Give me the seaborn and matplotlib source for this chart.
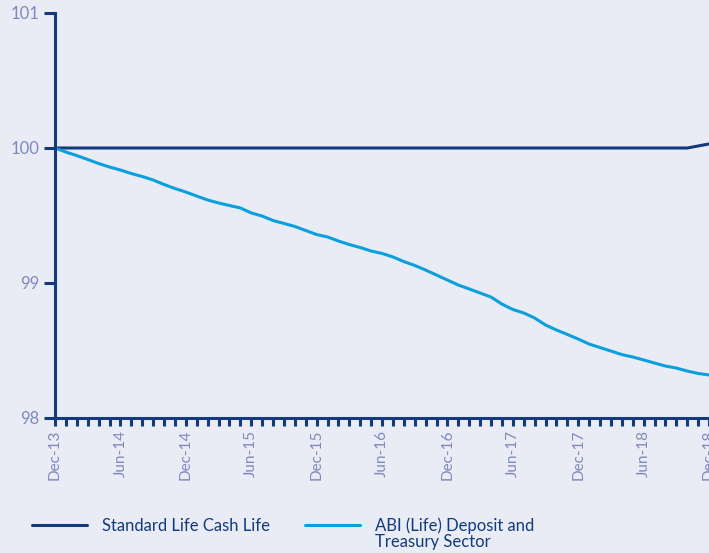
import matplotlib
matplotlib.use("Agg")
import matplotlib.pyplot as plt
import seaborn as sns
import pandas as pd
import numpy as np

# ---- data ----
months = ["Dec-13", "Jan-14", "Feb-14", "Mar-14", "Apr-14", "May-14", "Jun-14", "Jul-14", "Aug-14", "Sep-14", "Oct-14", "Nov-14",
          "Dec-14", "Jan-15", "Feb-15", "Mar-15", "Apr-15", "May-15", "Jun-15", "Jul-15", "Aug-15", "Sep-15", "Oct-15", "Nov-15",
          "Dec-15", "Jan-16", "Feb-16", "Mar-16", "Apr-16", "May-16", "Jun-16", "Jul-16", "Aug-16", "Sep-16", "Oct-16", "Nov-16",
          "Dec-16", "Jan-17", "Feb-17", "Mar-17", "Apr-17", "May-17", "Jun-17", "Jul-17", "Aug-17", "Sep-17", "Oct-17", "Nov-17",
          "Dec-17", "Jan-18", "Feb-18", "Mar-18", "Apr-18", "May-18", "Jun-18", "Jul-18", "Aug-18", "Sep-18", "Oct-18", "Nov-18",
          "Dec-18"]

standard_life = [100.0] * 59 + [100.015, 100.03]

abi_sector = [100.000, 99.970, 99.944, 99.915, 99.885, 99.859, 99.837, 99.811, 99.789, 99.763, 99.730, 99.700,
              99.674, 99.644, 99.615, 99.593, 99.574, 99.556, 99.519, 99.496, 99.463, 99.441, 99.419, 99.389,
              99.359, 99.341, 99.311, 99.285, 99.263, 99.237, 99.219, 99.193, 99.159, 99.130, 99.096, 99.059,
              99.022, 98.985, 98.956, 98.926, 98.896, 98.844, 98.804, 98.778, 98.741, 98.689, 98.652, 98.619,
              98.585, 98.548, 98.522, 98.496, 98.470, 98.452, 98.430, 98.407, 98.385, 98.370, 98.348, 98.330,
              98.319]

series_names = ["Standard Life Cash Life", "ABI (Life) Deposit and\nTreasury Sector"]
y_ticks = [98, 99, 100, 101]

# ---- styling ----
BG = "#E9ECF5"
NAVY = "#123A7C"
LIGHT = "#0B9FDC"
TICKC = "#7F89BD"
W, H = 709, 553

sns.set_theme(style="white")
plt.rcParams["font.family"] = ["Lato", "DejaVu Sans"]

df = pd.DataFrame({
    "idx": list(range(len(months))) * 2,
    "value": standard_life + abi_sector,
    "series": [series_names[0]] * len(months) + [series_names[1]] * len(months),
})

fig = plt.figure(figsize=(W / 100, H / 100), dpi=100, facecolor=BG)
ax = fig.add_axes([55 / W, 1 - 418 / H, 1 - 55 / W, (418 - 13) / H])
ax.set_facecolor(BG)

sns.lineplot(data=df, x="idx", y="value", hue="series", hue_order=series_names,
             palette=[NAVY, LIGHT], linewidth=2.2, ax=ax, legend=True)

ax.set_xlim(0, len(months) - 1)
ax.set_ylim(98, 101)
ax.set_xlabel("")
ax.set_ylabel("")

ax.set_xticks(range(len(months)))
ax.set_xticklabels([m if i % 6 == 0 else "" for i, m in enumerate(months)], rotation=90)
ax.set_yticks(y_ticks)
ax.set_yticklabels([str(t) for t in y_ticks])

for s in ["top", "right"]:
    ax.spines[s].set_visible(False)
for s in ["left", "bottom"]:
    ax.spines[s].set_color(NAVY)
    ax.spines[s].set_linewidth(2.2)

ax.tick_params(axis="x", direction="out", length=5.5, width=2.2, color=NAVY,
               labelcolor=TICKC, labelsize=11, pad=3, bottom=True)
ax.tick_params(axis="y", direction="out", length=8, width=2.2, color=NAVY,
               labelcolor=TICKC, labelsize=12, pad=3, left=True)
ax.grid(False)

handles, _ = ax.get_legend_handles_labels()
first_lines = [n.split("\n")[0] for n in series_names]
leg = ax.legend(handles, first_lines, loc="center left", bbox_to_anchor=(32 / W, 1 - 526 / H),
                bbox_transform=fig.transFigure, ncol=2, frameon=False, fontsize=12,
                handlelength=3.3, handletextpad=0.9, columnspacing=2.1,
                labelcolor=NAVY, borderaxespad=0, borderpad=0)

# continuation line of the wrapped second label, aligned under its first line
fig.canvas.draw()
bb = leg.get_texts()[1].get_window_extent()
extra = "\n".join(series_names[1].split("\n")[1:])
fig.text(bb.x0 / W, 1 - 542 / H, extra, ha="left", va="center", fontsize=12, color=NAVY)

fig.savefig("out.png", dpi=100, facecolor=BG)
